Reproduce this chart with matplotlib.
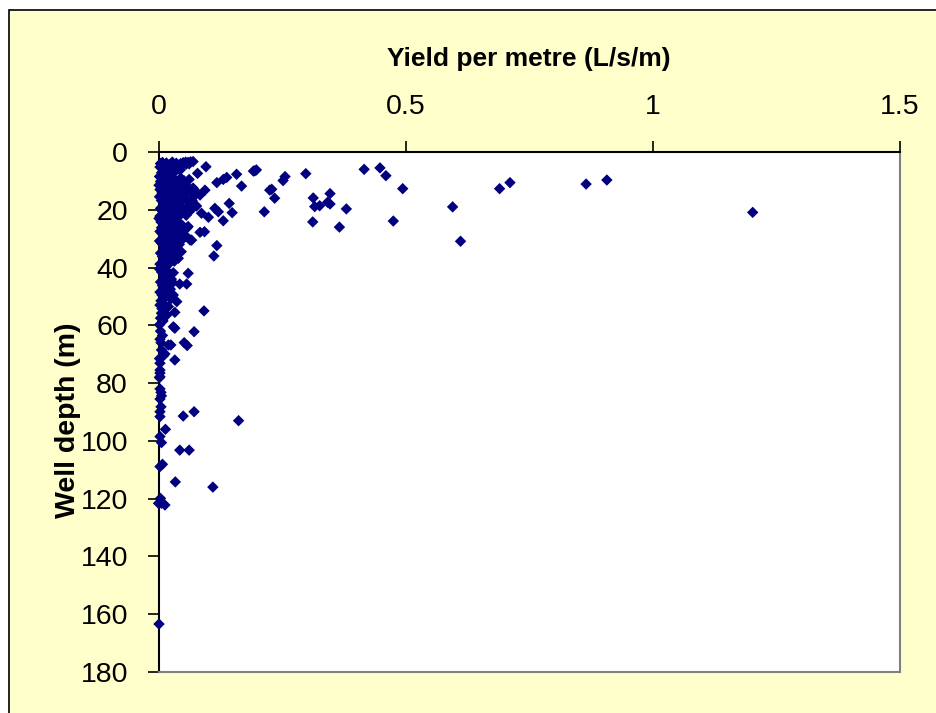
import matplotlib
matplotlib.use("Agg")
import matplotlib.pyplot as plt
from matplotlib.patches import Rectangle

plt.rcParams['font.family'] = ['Liberation Sans', 'DejaVu Sans']

# Yield per metre (L/s/m) and well depth (m)
yield_per_metre = [
    # dense cluster, depth 3-8
    0.004, 0.008, 0.012, 0.016, 0.020, 0.024, 0.028, 0.032, 0.036, 0.040, 0.045, 0.050, 0.055,
    0.060, 0.065, 0.070, 0.048, 0.040, 0.033, 0.025, 0.018, 0.010, 0.006, 0.014, 0.003, 0.022,
    0.030, 0.044, 0.056, 0.062, 0.002, 0.008, 0.012,
    # depth 8-15
    0.004, 0.009, 0.014, 0.018, 0.022, 0.026, 0.030, 0.035, 0.040, 0.045, 0.050, 0.055, 0.060,
    0.065, 0.070, 0.075, 0.003, 0.007, 0.012, 0.017, 0.024, 0.032, 0.038, 0.046, 0.052, 0.062,
    0.001, 0.027,
    # depth 15-22
    0.002, 0.006, 0.010, 0.014, 0.018, 0.022, 0.026, 0.030, 0.034, 0.038, 0.042, 0.046, 0.050,
    0.055, 0.060, 0.065, 0.068, 0.004, 0.008, 0.012, 0.016, 0.020, 0.025, 0.029, 0.033, 0.037,
    0.041, 0.045, 0.003, 0.056,
    # depth 22-30
    0.001, 0.005, 0.009, 0.013, 0.017, 0.021, 0.025, 0.029, 0.033, 0.037, 0.042, 0.047, 0.052,
    0.058, 0.003, 0.007, 0.011, 0.015, 0.019, 0.024, 0.028, 0.032, 0.036, 0.040, 0.045, 0.050,
    0.055, 0.006,
    # depth 30-40
    0.002, 0.006, 0.010, 0.014, 0.018, 0.022, 0.026, 0.030, 0.034, 0.038, 0.042, 0.004, 0.008,
    0.012, 0.016, 0.020, 0.024, 0.028, 0.032, 0.036, 0.040, 0.003, 0.007, 0.011, 0.015, 0.019,
    0.046,
    # depth 40-52
    0.002, 0.006, 0.010, 0.014, 0.018, 0.022, 0.026, 0.030, 0.004, 0.008, 0.012, 0.016, 0.020,
    0.024, 0.003, 0.007, 0.011, 0.015, 0.019, 0.025, 0.005, 0.010, 0.013, 0.029,
    # depth 52-78 near axis
    0.003, 0.007, 0.004, 0.009, 0.012, 0.002, 0.006,
    0.004, 0.008, 0.003, 0.006, 0.010, 0.002, 0.005, 0.003,
    # scattered points
    0.096, 0.079, 0.118, 0.131, 0.138, 0.158, 0.168, 0.195, 0.192, 0.074, 0.084, 0.094, 0.070,
    0.077, 0.087, 0.101, 0.114, 0.121, 0.143, 0.149, 0.131,
    0.198, 0.256, 0.252, 0.225, 0.229, 0.235, 0.214,
    0.298, 0.416, 0.448, 0.460, 0.494, 0.313, 0.347, 0.316, 0.326, 0.342, 0.347, 0.380, 0.312,
    0.366, 0.475, 0.595, 0.611, 0.690, 0.711, 0.865, 0.907, 1.202,
    0.084, 0.093, 0.118, 0.112, 0.060, 0.043, 0.057, 0.030, 0.037, 0.064, 0.067, 0.060,
    0.092, 0.033, 0.020, 0.017, 0.030, 0.033, 0.072, 0.052, 0.058, 0.020, 0.025, 0.013, 0.033,
    0.003, 0.003, 0.003,
    0.002, 0.003, 0.005, 0.006, 0.003, 0.005, 0.003, 0.003, 0.050, 0.072, 0.162, 0.014, 0.003,
    0.006, 0.043, 0.062,
    0.003, 0.008, 0.034, 0.110, 0.004, 0.000, 0.013, 0.006,
    0.001,
]

well_depth = [
    # dense cluster, depth 3-8
    4.0, 3.6, 4.4, 3.8, 5.0, 4.2, 3.5, 4.8, 3.9, 4.6, 4.0, 3.7, 3.5,
    3.6, 3.4, 3.3, 4.6, 5.6, 6.8, 7.5, 8.0, 6.5, 7.2, 5.8, 5.2, 6.2,
    5.4, 6.2, 4.2, 4.1, 8.5, 9.0, 7.8,
    # depth 8-15
    10.2, 11.0, 9.5, 12.0, 10.5, 11.8, 9.8, 12.5, 10.8, 9.0, 12.2, 11.2, 13.5,
    14.0, 12.5, 14.8, 13.0, 14.2, 13.6, 14.8, 13.2, 14.0, 13.5, 14.6, 10.0, 9.5,
    11.5, 8.6,
    # depth 15-22
    15.5, 16.8, 15.2, 17.5, 16.0, 18.2, 15.8, 17.0, 19.0, 16.5, 18.5, 17.2, 19.8,
    16.2, 18.8, 20.2, 16.8, 19.5, 20.5, 21.5, 19.2, 20.8, 21.8, 20.0, 21.2, 22.0,
    20.6, 21.6, 22.2, 21.9,
    # depth 22-30
    23.0, 24.2, 23.5, 25.0, 23.8, 26.0, 24.6, 23.2, 25.8, 24.0, 26.5, 25.2, 27.0,
    26.2, 27.5, 28.2, 27.0, 29.0, 28.0, 29.6, 27.8, 28.8, 29.8, 28.5, 29.2, 30.0,
    29.0, 26.2,
    # depth 30-40
    30.8, 31.5, 32.4, 31.0, 33.2, 31.8, 34.0, 32.6, 31.2, 33.8, 32.0, 35.0, 36.2,
    34.6, 37.0, 35.8, 38.0, 36.5, 37.8, 35.2, 36.8, 38.8, 39.5, 38.2, 39.8, 39.0,
    34.5,
    # depth 40-52
    40.5, 41.5, 42.5, 41.0, 43.2, 42.0, 44.0, 41.8, 45.0, 46.2, 44.6, 47.0, 45.8,
    47.5, 48.5, 49.5, 48.0, 50.0, 49.0, 50.8, 51.5, 52.5, 46.8, 45.2,
    # depth 52-78 near axis
    53.0, 54.2, 57.5, 58.5, 56.5, 59.8, 55.8,
    62.0, 63.5, 64.8, 68.5, 70.5, 71.5, 66.0, 76.5,
    # scattered points
    5.1, 7.4, 10.6, 9.5, 8.8, 7.7, 11.8, 6.5, 6.6, 13.4, 14.9, 13.2, 17.8,
    18.7, 21.2, 22.6, 19.5, 20.7, 17.8, 21.0, 23.8,
    6.2, 8.5, 9.9, 13.2, 12.9, 16.0, 20.7,
    7.5, 6.0, 5.5, 8.2, 12.7, 15.9, 14.4, 18.9, 18.6, 17.4, 18.0, 19.7, 24.2,
    26.0, 23.9, 19.0, 30.9, 12.7, 10.6, 11.1, 9.7, 20.9,
    27.8, 27.6, 32.4, 36.0, 42.0, 45.7, 45.7, 49.5, 51.8, 30.5, 30.5, 25.8,
    55.0, 55.5, 53.5, 56.4, 60.5, 61.0, 62.2, 66.0, 67.0, 66.8, 66.8, 69.9, 72.0,
    73.1, 75.5, 77.8,
    78.1, 82.0, 83.2, 84.4, 85.5, 88.2, 89.9, 91.6, 91.4, 89.9, 93.0, 96.0, 98.5,
    100.6, 103.2, 103.2,
    108.9, 108.1, 114.2, 116.0, 119.9, 121.6, 122.2, 121.6,
    163.4,
]

x_ticks = [0, 0.5, 1, 1.5]
x_tick_labels = ["0", "0.5", "1", "1.5"]
y_ticks = [0, 20, 40, 60, 80, 100, 120, 140, 160, 180]

fig = plt.figure(figsize=(9.36, 7.13), dpi=100, facecolor="white")
bg = Rectangle((9 / 936, -0.02), 1.0, 1 - 10 / 713 + 0.02,
               transform=fig.transFigure, facecolor="#FFFFCC",
               edgecolor="black", linewidth=1.2, zorder=-10)
fig.patches.append(bg)

ax = fig.add_axes([158.5 / 936, 1 - 672 / 713, (900 - 158.5) / 936, (672 - 152) / 713])
ax.set_zorder(5)
ax.set_facecolor("white")

ax.scatter(yield_per_metre, well_depth, marker="D", s=34, color="#000080",
           edgecolors="none", zorder=3, clip_on=False)

ax.set_xlim(0, 1.5)
ax.set_ylim(180, 0)
ax.xaxis.tick_top()
ax.xaxis.set_label_position("top")
ax.set_xticks(x_ticks)
ax.set_xticklabels(x_tick_labels)
ax.set_yticks(y_ticks)

ax.tick_params(axis="x", direction="out", length=8, width=1.2, pad=15, labelsize=20.5,
               colors="black")
ax.tick_params(axis="y", direction="out", length=8, width=1.2, pad=14, labelsize=20.5,
               colors="black")

for side in ("top", "left"):
    ax.spines[side].set_color("black")
    ax.spines[side].set_linewidth(1.5)
for side in ("bottom", "right"):
    ax.spines[side].set_color("#808080")
    ax.spines[side].set_linewidth(1.5)

ax.set_xlabel("Yield per metre (L/s/m)", fontsize=19, fontweight="bold", labelpad=20)
ax.set_ylabel("Well depth (m)", fontsize=20.5, fontweight="bold")
ax.yaxis.set_label_coords(-0.105, 0.484)

fig.savefig("out.png", dpi=100, facecolor=fig.get_facecolor())
